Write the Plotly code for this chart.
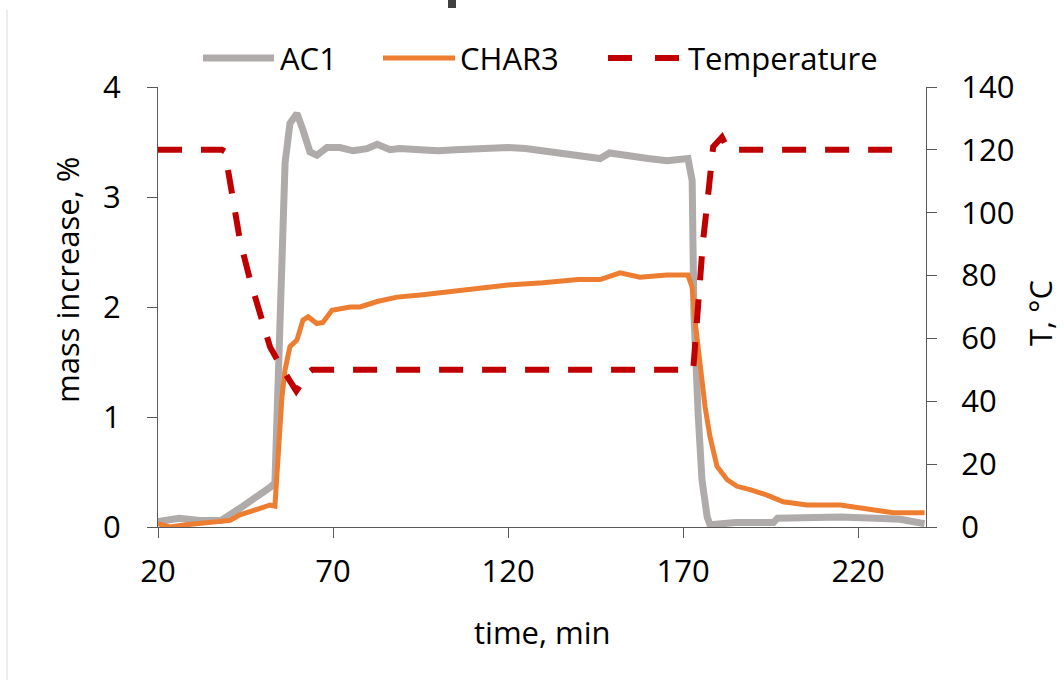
import plotly.graph_objects as go

# ---- data ----
time_ac1 = [20, 26, 32, 38, 43.4, 46.3, 49.1, 52, 53.4, 54.3, 55.4, 56.3, 57.7, 59.7, 61.4, 63.4,
            65.4, 68.3, 72, 75.7, 79.7, 82.6, 86.3, 89, 95, 100, 105, 110, 115, 120, 125, 130,
            135, 140, 146.3, 149, 155.7, 160, 165.4, 171.4, 172.6, 173.1, 174.3, 175.4, 176.9,
            177.7, 185, 195.8, 197, 205, 215, 225, 232, 239]
ac1 = [0.05, 0.08, 0.06, 0.06, 0.17, 0.23, 0.29, 0.36, 0.40, 1.34, 2.85, 3.31, 3.67, 3.76, 3.61,
       3.41, 3.38, 3.45, 3.45, 3.42, 3.44, 3.48, 3.43, 3.44, 3.43, 3.42, 3.43, 3.44, 3.44, 3.45,
       3.44, 3.42, 3.39, 3.38, 3.35, 3.40, 3.36, 3.35, 3.33, 3.35, 3.15, 1.94, 1.03, 0.43, 0.09,
       0.02, 0.04, 0.04, 0.08, 0.09, 0.09, 0.08, 0.07, 0.03]

time_char3 = [20, 23.4, 28, 32, 37.7, 40.6, 43.4, 46.3, 49.1, 52, 53.4, 54.3, 55.4, 56.3, 57.7,
              59.7, 61.4, 62.9, 65.4, 67.1, 69.7, 74.9, 77.7, 82.6, 88.3, 95, 100, 110, 120, 130,
              140, 146.3, 152, 157.7, 165.4, 171.4, 172.6, 173.4, 174.9, 176.3, 177.7, 179.7,
              182.6, 185.4, 189.1, 194, 198.6, 205.4, 214.9, 222.6, 230, 239]
char3 = [0.03, 0.0, 0.02, 0.03, 0.05, 0.06, 0.11, 0.14, 0.17, 0.20, 0.19, 0.73, 1.18, 1.43, 1.64,
         1.70, 1.88, 1.91, 1.85, 1.86, 1.97, 2.00, 2.00, 2.05, 2.09, 2.11, 2.13, 2.17, 2.20, 2.22,
         2.25, 2.25, 2.31, 2.27, 2.29, 2.29, 2.18, 1.88, 1.43, 1.09, 0.82, 0.55, 0.43, 0.37, 0.34,
         0.29, 0.23, 0.20, 0.20, 0.17, 0.13, 0.13]

time_temp = [20, 38.3, 39.1, 40.6, 43.4, 46.3, 49.1, 52, 55.7, 59.5, 62.9, 64, 172.9, 174,
             175.7, 177.1, 178.6, 181.1, 182.9, 233]
temp = [120, 120, 119.5, 110, 91.3, 78.6, 68, 57.3, 50, 43.3, 49, 50, 50, 68, 91, 105, 121,
        124, 120, 120]

x_ticks = [20, 70, 120, 170, 220]
series_names = ["AC1", "CHAR3", "Temperature"]

GRAY = "#AFABAB"
ORANGE = "#ED7D31"
RED = "#C00000"
AXIS = "#595959"
FONT = dict(family="Open Sans, Noto Sans, sans-serif", size=31, color="#000000")

fig = go.Figure()
fig.add_trace(go.Scatter(x=time_ac1, y=ac1, name=series_names[0], mode="lines",
                         line=dict(color=GRAY, width=7)))
fig.add_trace(go.Scatter(x=time_char3, y=char3, name=series_names[1], mode="lines",
                         line=dict(color=ORANGE, width=5)))
fig.add_trace(go.Scatter(x=time_temp, y=temp, name=series_names[2], mode="lines", yaxis="y2",
                         line=dict(color=RED, width=6, dash="24px,19px")))

# plot area in pixels: x 158..926, y 87..527
L, R, T, B = 158, 926, 87, 527
W, H = R - L, B - T


def px(x):
    return (x - L) / W


def py(y):
    return (B - y) / H


shapes = []
annotations = []
# manual legend
legend_y = py(58)
legend_items = [
    (203, 274, 278, series_names[0], GRAY, 7, "solid"),
    (383, 455, 458, series_names[1], ORANGE, 5, "solid"),
    (608, 680, 686, series_names[2], RED, 6, "24px,23px"),
]
for x0, x1, xt, name, col, w, dash in legend_items:
    shapes.append(dict(type="line", xref="paper", yref="paper", x0=px(x0), x1=px(x1),
                       y0=legend_y, y1=legend_y, line=dict(color=col, width=w, dash=dash)))
    annotations.append(dict(text=name, xref="paper", yref="paper", x=px(xt), y=legend_y,
                            xanchor="left", yanchor="middle", showarrow=False, font=FONT))

# axis titles
annotations.append(dict(text="time, min", xref="paper", yref="paper", x=px(542), y=py(632),
                        xanchor="center", yanchor="middle", showarrow=False, font=FONT))
annotations.append(dict(text="mass increase, %", xref="paper", yref="paper", x=px(67), y=py(280),
                        xanchor="center", yanchor="middle", showarrow=False, textangle=-90,
                        font=FONT))
annotations.append(dict(text="T, °C", xref="paper", yref="paper", x=px(1040), y=py(313),
                        xanchor="center", yanchor="middle", showarrow=False, textangle=-90,
                        font=FONT))

# decorative frame remnants from the original image
shapes.append(dict(type="line", xref="paper", yref="paper", x0=px(7), x1=px(7), y0=py(10),
                   y1=py(680), line=dict(color="#D9D9D9", width=1)))
shapes.append(dict(type="rect", xref="paper", yref="paper", x0=px(448), x1=px(456), y0=py(0),
                   y1=py(8), line=dict(width=0), fillcolor="#404040"))

axis_common = dict(showline=True, linecolor=AXIS, linewidth=1.3, ticks="outside", ticklen=10,
                   tickcolor=AXIS, tickwidth=1.3, showgrid=False, zeroline=False,
                   tickfont=FONT)

fig.update_layout(
    width=1064, height=680,
    margin=dict(l=L, r=1064 - R, t=T, b=680 - B, autoexpand=False),
    paper_bgcolor="white", plot_bgcolor="white",
    showlegend=False,
    font=FONT,
    xaxis=dict(range=[20, 239.4], tickvals=x_ticks, ticklabelstandoff=7, **axis_common),
    yaxis=dict(range=[0, 4], dtick=1, ticklabelstandoff=20, **axis_common),
    yaxis2=dict(range=[0, 140], dtick=20, overlaying="y", side="right", anchor="x",
                ticklabelstandoff=18, **axis_common),
    shapes=shapes,
    annotations=annotations,
)

fig.write_html("out.html")
